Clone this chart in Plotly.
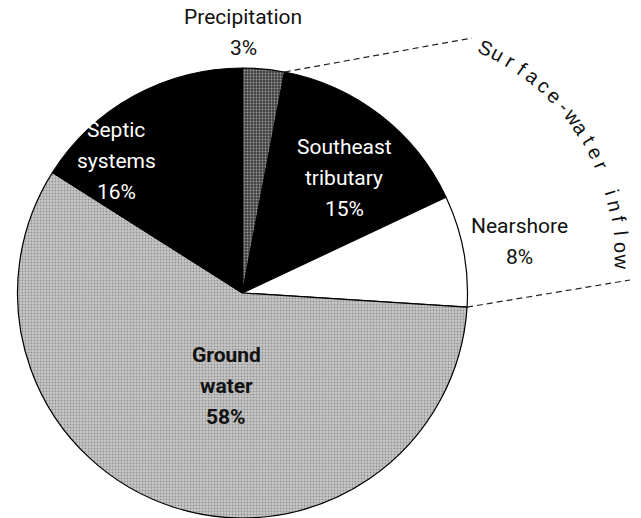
import math
import plotly.graph_objects as go

# ---- data ----
sources = ["Precipitation", "Southeast tributary", "Nearshore", "Ground water", "Septic systems"]
percents = [3, 15, 8, 58, 16]
label_lines = [["Precipitation", "3%"], ["Southeast", "tributary", "15%"], ["Nearshore", "8%"],
               ["Ground", "water", "58%"], ["Septic", "systems", "16%"]]
group_label = "Surface-water inflow"

# ---- layout geometry (pixels) ----
W, H = 641, 518
cx, cy, R = 242.5, 293.0, 225.0

def px(x):
    return x / W

def py(y):
    return 1 - y / H

fill_colors = ["#424242", "#000000", "#ffffff", "#c8c8c8", "#000000"]
pattern_shapes = [".", "", "", ".", ""]
pattern_fg = ["#9a9a9a", "#000000", "#ffffff", "#909090", "#000000"]

fig = go.Figure(go.Pie(
    labels=sources, values=percents, sort=False, direction="clockwise", rotation=0,
    textinfo="none", hoverinfo="label+percent", showlegend=False,
    marker=dict(colors=fill_colors, line=dict(color="#000000", width=1.2),
                pattern=dict(shape=pattern_shapes, fgcolor=pattern_fg, bgcolor=fill_colors,
                             size=3, solidity=0.3)),
    domain=dict(x=[px(cx - R), px(cx + R)], y=[py(cy + R), py(cy - R)]),
))

FONT = "Liberation Sans Narrow, Roboto, Arial, sans-serif"
label_pos = [(243, 17), (344, 147), (519, 226), (226, 355), (116, 130)]
text_colors = ["#111111", "#ffffff", "#111111", "#111111", "#ffffff"]
bold = [False, False, False, True, False]
annotations = []
for lines, (lx, ly), col, b in zip(label_lines, label_pos, text_colors, bold):
    for k, line in enumerate(lines):
        t = f"<b>{line}</b>" if b else line
        annotations.append(dict(x=px(lx), y=py(ly + 31 * k), xref="paper", yref="paper",
                                text=t, showarrow=False, xanchor="center", yanchor="middle",
                                font=dict(family=FONT, size=21, color=col)))

# curved group label
acx, acy, ar = 389.0, 260.0, 233.0
a0, a1 = 24.4, 90.4
n = len(group_label)
for i, ch in enumerate(group_label):
    if ch == " ":
        continue
    th = a0 + (a1 - a0) * i / (n - 1)
    rad = math.radians(th)
    x = acx + ar * math.sin(rad)
    y = acy - ar * math.cos(rad)
    annotations.append(dict(x=px(x), y=py(y), xref="paper", yref="paper", text=ch,
                            showarrow=False, xanchor="center", yanchor="middle", textangle=th,
                            font=dict(family="Liberation Sans, Arial, sans-serif", size=20,
                                      color="#111111")))

# dashed bracket lines from slice boundaries of the surface-water group
cum = 0
bounds = []
for v in percents:
    bounds.append(cum)
    cum += v
total = cum
start_ang = 360 * (bounds[1]) / total
end_ang = 360 * (bounds[2] + percents[2]) / total
shapes = []
for ang, (ex, ey) in [(start_ang, (472, 38)), (end_ang, (630, 280))]:
    r = math.radians(ang)
    sx = cx + R * math.sin(r)
    sy = cy - R * math.cos(r)
    shapes.append(dict(type="line", xref="paper", yref="paper", x0=px(sx), y0=py(sy),
                       x1=px(ex), y1=py(ey), line=dict(color="#222222", width=1.2, dash="6px,4px")))

fig.update_layout(width=W, height=H, margin=dict(l=0, r=0, t=0, b=0),
                  paper_bgcolor="white", plot_bgcolor="white",
                  annotations=annotations, shapes=shapes)
fig.write_html("out.html", config={"displayModeBar": False},
               post_script="document.body.style.margin='0';document.body.style.overflow='hidden';")
